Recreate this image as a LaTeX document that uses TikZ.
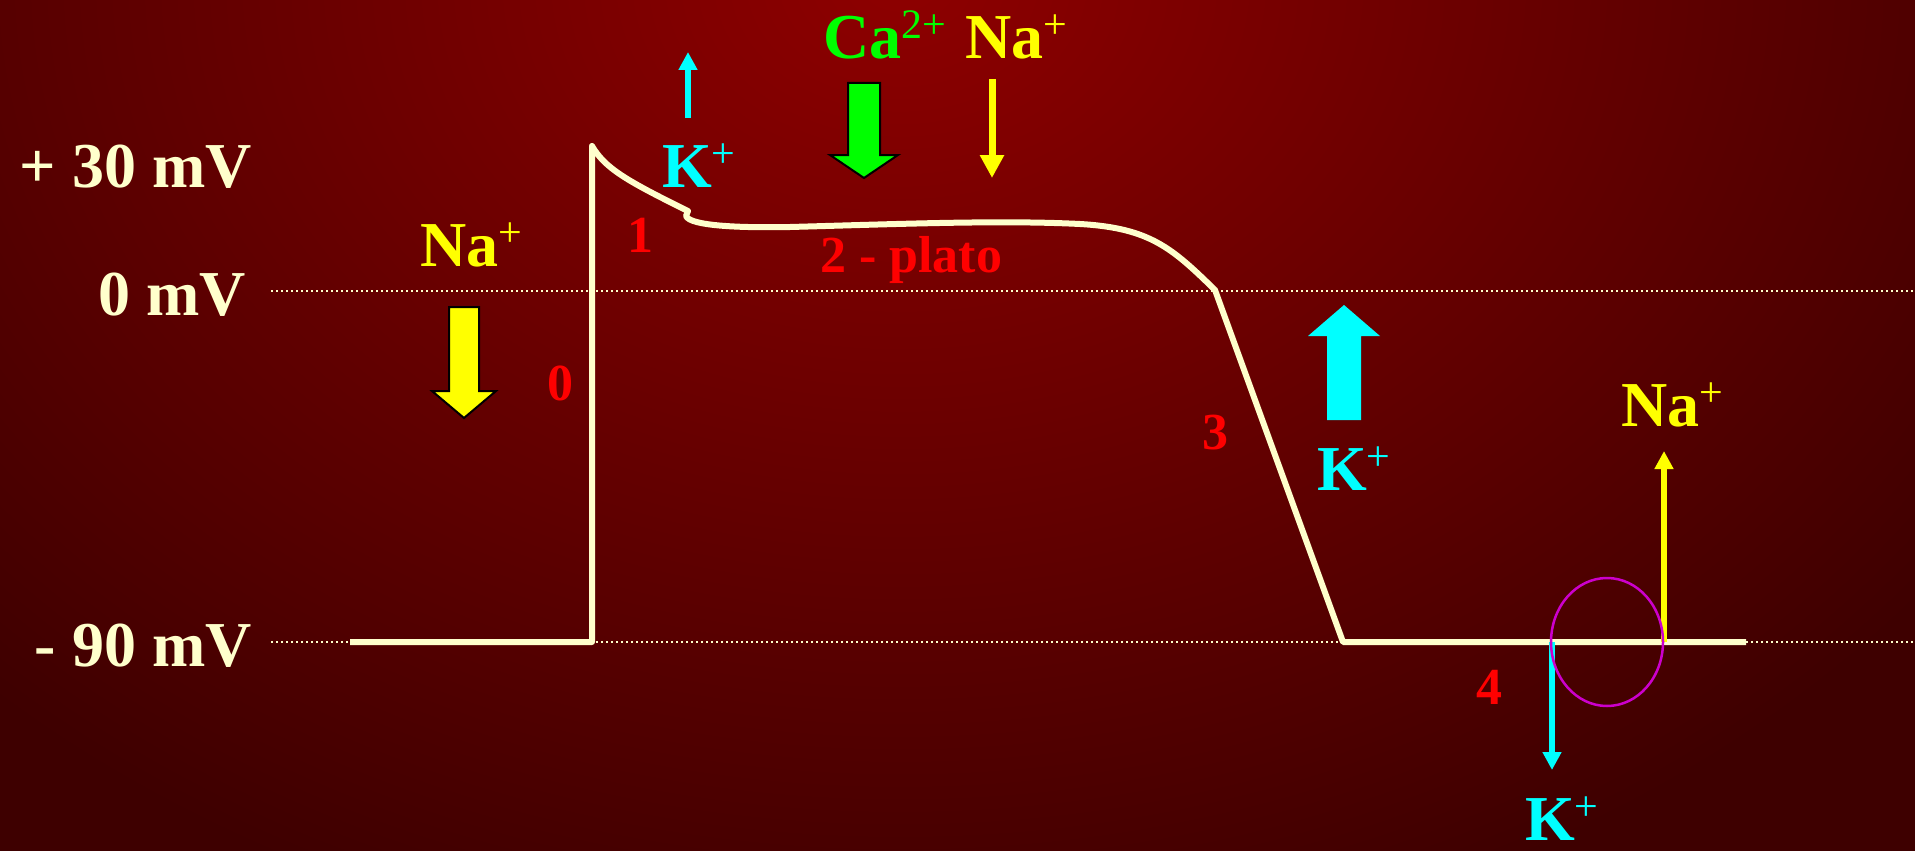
\documentclass[tikz,border=0pt]{standalone}
\usepackage{fontspec}
\setmainfont{Liberation Serif}
\usetikzlibrary{arrows.meta}
\definecolor{bgin}{RGB}{142,0,0}
\definecolor{bgout}{RGB}{62,0,0}
\definecolor{cream}{RGB}{255,255,204}
\definecolor{ionred}{RGB}{255,0,0}
\definecolor{ionyellow}{RGB}{255,255,0}
\definecolor{ioncyan}{RGB}{0,255,255}
\definecolor{iongreen}{RGB}{0,255,0}
\definecolor{ringmag}{RGB}{204,0,204}
\newcommand\supplus{\raisebox{20pt}{\fontsize{42}{42}\selectfont\mdseries +}}
\newcommand\supcatwo{\raisebox{20pt}{\fontsize{42}{42}\selectfont\mdseries 2+}}
\tikzset{
  big/.style={inner sep=0pt, font=\fontsize{64}{70}\selectfont\bfseries},
  mvlabel/.style={big, text=cream, anchor=base east},
  ionlabel/.style={big, anchor=base west},
  phase/.style={inner sep=0pt, font=\fontsize{52}{58}\selectfont\bfseries, text=ionred, anchor=base},
  curve/.style={draw=cream, line width=6pt, line join=round},
  dotline/.style={draw=cream, line width=2pt, dash pattern=on 2pt off 3pt},
  thinarrow/.style={line width=6pt, -{Triangle[width=18pt,length=18pt]}},
  blockarrow/.style={draw=black, line width=2pt, line join=miter},
}
\begin{document}
\begin{tikzpicture}[x=1pt,y=-1pt]
\useasboundingbox (0,0) rectangle (1915,851);
% background
\fill[bgout] (0,0) rectangle (1915,851);
\begin{scope}
  \clip (0,0) rectangle (1915,851);
  \shade[inner color=bgin, outer color=bgout] (900,-20) ellipse [x radius=1300, y radius=1000];
\end{scope}
% guide lines
\coordinate (z0) at (271,291);
\coordinate (z1) at (1915,291);
\coordinate (m0) at (271,642);
\coordinate (m1) at (1915,642);
\draw[dotline] (z0) -- (z1);
\draw[dotline] (m0) -- (m1);
% voltage labels
\node[mvlabel] (p30) at (252,187) {+ 30 mV};
\node[mvlabel] (zero) at (246,315) {0 mV};
\node[mvlabel] (m90) at (252,666) {- 90 mV};
% action potential curve
\coordinate (start) at (350,642);
\coordinate (up0) at (592,642);
\coordinate (peak) at (592,146);
\coordinate (notch) at (688,211);
\coordinate (corner) at (1215,290);
\coordinate (rest) at (1343,642);
\coordinate (stop) at (1746,642);
\draw[curve] (start) -- (up0) -- (peak)
  .. controls (605,168) and (625,180) .. (notch)
  -- (686,216)
  .. controls (690,226) and (740,228) .. (790,227)
  .. controls (900,224) and (1000,220) .. (1080,224)
  .. controls (1150,228) and (1172,248) .. (corner)
  -- (rest) -- (stop);
% phase numbers
\node[phase] (ph0) at (560,400) {0};
\node[phase] (ph1) at (640,252) {1};
\node[phase, anchor=base west] (ph2) at (820,272) {2 - plato};
\node[phase] (ph3) at (1215,449) {3};
\node[phase] (ph4) at (1489,704) {4};
% ion labels
\node[ionlabel, text=ionyellow] (naL) at (420,266) {Na\supplus};
\node[ionlabel, text=ioncyan] (kTop) at (662,187) {K\supplus};
\node[ionlabel, text=iongreen] (ca) at (823,59) {Ca\supcatwo};
\node[ionlabel, text=ionyellow] (naTop) at (965,59) {Na\supplus};
\node[ionlabel, text=ioncyan] (kMid) at (1317,490) {K\supplus};
\node[ionlabel, text=ionyellow] (naR) at (1621,426) {Na\supplus};
\node[ionlabel, text=ioncyan] (kBot) at (1525,840) {K\supplus};
% block arrows
\filldraw[blockarrow, fill=ionyellow] (449,307) -- (479,307) -- (479,391) -- (496,391)
  -- (464,418) -- (432,391) -- (449,391) -- cycle;
\filldraw[blockarrow, fill=iongreen] (848,83) -- (880,83) -- (880,155) -- (898,155)
  -- (864,178) -- (830,155) -- (848,155) -- cycle;
\fill[ioncyan] (1327,420) -- (1361,420) -- (1361,336) -- (1380,336)
  -- (1344,305) -- (1308,336) -- (1327,336) -- cycle;
% thin arrows
\coordinate (kt0) at (688,118);
\coordinate (kt1) at (688,52);
\draw[thinarrow, ioncyan] (kt0) -- (kt1);
\coordinate (nt0) at (992,79);
\coordinate (nt1) at (992,178);
\draw[ionyellow, line width=7pt, -{Triangle[width=23pt,length=23pt]}] (nt0) -- (nt1);
\coordinate (kb0) at (1552,642);
\coordinate (kb1) at (1552,770);
\draw[thinarrow, ioncyan] (kb0) -- (kb1);
\coordinate (nr0) at (1664,642);
\coordinate (nr1) at (1664,451);
\draw[thinarrow, ionyellow] (nr0) -- (nr1);
% ring
\draw[ringmag, line width=2.5pt] (1607,642) ellipse [x radius=56, y radius=64];
\end{tikzpicture}
\end{document}
